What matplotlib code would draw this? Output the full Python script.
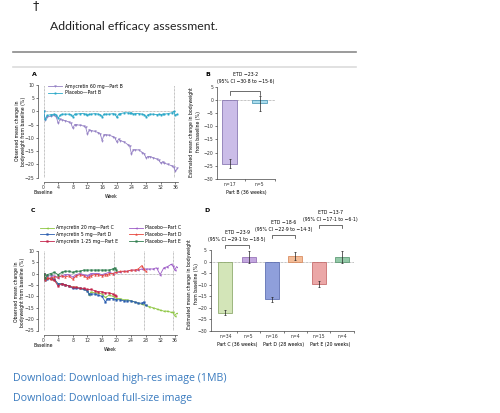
import matplotlib
matplotlib.use("Agg")
import matplotlib.pyplot as plt
from matplotlib.lines import Line2D

# ---------------- data ----------------
# Panel A: Part B (observed mean change, %)
a_weeks = [0, 0.5, 1, 2, 3, 3.5, 4, 4.5, 5, 6, 7, 7.5, 8, 8.5, 9, 10, 11, 11.5, 12, 12.5,
           13, 14, 15, 15.5, 16, 16.5, 17, 18, 19, 19.5, 20, 20.5, 21, 22, 23, 23.5, 24, 24.5,
           25, 26, 27, 27.5, 28, 28.5, 29, 30, 31, 31.5, 32, 32.5, 33, 34, 35, 35.5, 36, 36.5]
a_amy60 = [0, -3.2, -2.0, -1.8, -1.5, -2.0, -4.5, -3.0, -3.2, -3.5, -4.0, -4.5, -6.3, -5.0,
           -5.0, -5.2, -5.5, -6.0, -8.5, -7.0, -7.2, -7.5, -8.0, -8.5, -11.0, -8.8, -8.8, -9.0,
           -9.5, -10.0, -11.5, -10.5, -11.0, -11.5, -12.5, -13.0, -16.0, -14.5, -14.5, -14.5,
           -15.5, -16.0, -17.5, -17.0, -17.0, -17.5, -18.0, -18.5, -19.5, -19.0, -19.5, -20.0,
           -20.5, -21.0, -22.5, -21.5]
a_placebo = [0, -3.0, -1.5, -1.2, -1.0, -1.3, -2.5, -1.5, -1.0, -1.0, -1.0, -1.2, -2.0, -1.0,
             -1.0, -0.8, -0.8, -1.0, -1.5, -1.0, -1.0, -0.8, -1.0, -1.2, -2.0, -1.0, -1.0, -1.0,
             -0.8, -1.0, -2.2, -1.0, -0.8, -0.5, -0.5, -0.6, -0.5, -1.0, -0.8, -0.8, -1.0, -1.2,
             -2.0, -1.2, -1.0, -1.0, -1.2, -1.0, -1.2, -1.0, -1.0, -0.8, -0.5, 0.0, -1.5, -1.0]

# Panel B: estimated mean change (%) at 36 weeks
b_labels = ["n=17", "n=5"]
b_means = [-24.3, -1.3]
b_err = [1.7, 2.9]

# Panel C
c_weeks_C = [0, 0.5, 1, 2, 3, 4, 5, 6, 7, 8, 9, 10, 11, 12, 12.5, 13, 14, 15, 16, 17, 18, 19,
             20, 21, 22, 23, 24, 25, 26, 27, 28, 29, 30, 31, 32, 33, 34, 35, 35.5, 36, 36.5]
c_amy20 = [0, -2.5, -2.0, -2.5, -3.0, -4.5, -4.5, -5.0, -5.5, -6.0, -6.0, -6.5, -7.0, -7.5,
           -9.5, -8.0, -8.5, -8.5, -9.0, -10.5, -9.5, -10.0, -11.0, -11.0, -11.5, -11.5, -12.0,
           -12.5, -13.0, -13.5, -14.0, -14.5, -15.0, -15.5, -16.0, -16.5, -16.5, -17.0, -17.0,
           -18.5, -17.5]
c_plaC = [0, -2.5, -1.0, -1.0, -1.0, -2.0, -1.0, -0.5, -0.5, -1.5, -0.5, 0.0, -0.5, -1.0,
          -0.5, 0.0, 0.0, 0.0, -0.5, 0.0, 0.5, 0.0, 0.5, 0.5, 1.0, 1.0, 1.5, 1.5, 1.5, 2.0,
          2.0, 2.0, 2.0, 2.5, -0.5, 2.5, 3.0, 4.0, 3.5, 1.5, 3.0]
c_weeks_D = [0, 0.5, 1, 2, 3, 4, 5, 6, 7, 8, 9, 10, 11, 12, 12.5, 13, 14, 15, 16, 17, 17.5, 18,
             19, 20, 21, 22, 23, 24, 25, 26, 27, 27.5, 28]
c_amy5 = [0, -3.0, -2.5, -2.0, -2.5, -4.5, -4.5, -5.0, -5.5, -6.5, -6.5, -6.5, -7.0, -7.5,
          -9.0, -9.0, -9.0, -9.5, -10.0, -12.5, -11.0, -11.0, -11.0, -11.5, -11.5, -12.0,
          -12.0, -12.0, -12.5, -13.0, -13.0, -12.5, -14.0]
c_plaD = [0, -3.0, -2.0, -2.0, -1.5, -1.5, -1.0, -1.5, -1.0, -2.5, -1.0, -0.5, -1.0, -2.0,
          -1.5, -1.0, -0.5, -0.5, -1.0, -0.5, -0.5, 0.0, 0.0, 0.5, 1.0, 1.0, 1.0, 1.5, 1.5,
          2.0, 3.5, 2.0, 1.0]
c_weeks_E = [0, 0.5, 1, 2, 3, 4, 5, 6, 7, 8, 9, 10, 11, 12, 13, 14, 15, 16, 17, 18, 19, 19.5, 20]
c_amy125 = [0, -2.5, -2.0, -2.5, -3.0, -5.5, -4.5, -5.0, -5.5, -6.0, -6.0, -6.5, -6.5, -7.0,
            -7.0, -7.5, -8.0, -8.0, -8.5, -8.5, -9.0, -9.5, -10.0]
c_plaE = [0, -2.0, -0.5, 0.0, 0.5, -0.5, 0.5, 1.0, 1.0, 0.5, 1.0, 1.0, 1.5, 1.5, 1.5, 1.5,
          1.5, 1.5, 1.5, 1.5, 2.0, 2.5, 1.5]

# Panel D: estimated mean change (%)
d_labels = ["n=34", "n=5", "n=16", "n=4", "n=15", "n=4"]
d_means = [-22.1, 1.8, -16.2, 2.4, -9.8, 1.9]
d_err = [1.0, 2.6, 1.1, 1.8, 1.3, 2.5]
d_groups = ["Part C (36 weeks)", "Part D (28 weeks)", "Part E (20 weeks)"]
d_etd = ["ETD \u221223\u00b79\n(95% CI \u221229\u00b71 to \u221218\u00b75)",
         "ETD \u221218\u00b76\n(95% CI \u221222\u00b79 to \u221214\u00b73)",
         "ETD \u221213\u00b77\n(95% CI \u221217\u00b71 to \u22126\u00b71)"]
b_etd = "ETD \u221223\u00b72\n(95% CI \u221230\u00b78 to \u221215\u00b76)"

week_ticks = [0, 4, 8, 12, 16, 20, 24, 28, 32, 36]

# ---------------- layout ----------------
W, H = 500, 413
fig = plt.figure(figsize=(W / 100, H / 100), dpi=100)
plt.rcParams['font.family'] = ['DejaVu Sans']

def ax_px(x0, y0, x1, y1):
    return fig.add_axes([x0 / W, 1 - y1 / H, (x1 - x0) / W, (y1 - y0) / H])

def ftext(x, y, s, **kw):
    fig.text(x / W, 1 - y / H, s, **kw)

TS = 3.3
SP = '#444444'

def style(ax, xoff=0, yoff=0):
    for s in ['top', 'right']:
        ax.spines[s].set_visible(False)
    for s in ['left', 'bottom']:
        ax.spines[s].set_color(SP)
        ax.spines[s].set_linewidth(0.5)
    ax.spines['left'].set_position(('outward', yoff))
    ax.spines['bottom'].set_position(('outward', xoff))
    ax.tick_params(length=1.5, width=0.5, labelsize=TS, pad=1, color=SP, labelcolor='#333333')
    ax.patch.set_alpha(0)

# header
ftext(36, 5.5, "\u2020", fontsize=9, ha='center', va='center', color='#222222')
ftext(50, 26.5, "Additional efficacy assessment.", fontsize=8.8, ha='left', va='center',
      color='#222222', family='Lato')
fig.add_artist(Line2D([13 / W, 356 / W], [1 - 51.7 / H] * 2, color='#8a8a8a', lw=1.2))
fig.add_artist(Line2D([13 / W, 356 / W], [1 - 66.7 / H] * 2, color='#dcdcdc', lw=1.2))

# footer
ftext(13, 378.5, "Download: Download high-res image (1MB)", fontsize=7.7, color='#3a7bbf',
      ha='left', va='center', family='Open Sans')
ftext(13, 398.5, "Download: Download full-size image", fontsize=7.7, color='#3a7bbf',
      ha='left', va='center', family='Open Sans')

PURPLE_A = '#9480c4'
TEAL = '#2aa8c8'
GRAYDOT = dict(color='#888888', lw=0.5, ls=(0, (1, 1)))

def week_axis(ax):
    ax.set_xlim(0, 36.7)
    ax.set_ylim(-25, 10)
    ax.set_xticks(week_ticks)
    ax.set_yticks(range(-25, 11, 5))
    ax.set_xlabel("Week", fontsize=TS, labelpad=2.5)
    ax.annotate("Baseline", xy=(0, 0), xycoords=('data', 'axes fraction'),
                xytext=(0, -10.5), textcoords='offset points', fontsize=TS,
                ha='center', va='center')
    ax.plot([0, 36], [0, 0], **GRAYDOT, zorder=1)

# ---- Panel A ----
axA = ax_px(43.5, 85, 178, 177.7)
style(axA, xoff=3, yoff=4)
week_axis(axA)
for x in [0, 35.5]:
    axA.axvline(x, **GRAYDOT, zorder=1)
axA.plot(a_weeks, a_amy60, color=PURPLE_A, lw=0.6, marker='v', ms=1.3, mew=0.3,
         label="Amycretin 60 mg\u2014Part B", zorder=3)
axA.plot(a_weeks, a_placebo, color=TEAL, lw=0.6, marker='s', ms=1.0, mew=0.3,
         label="Placebo\u2014Part B", zorder=3)
axA.legend(loc='upper left', bbox_to_anchor=(0.02, 1.04), fontsize=TS, frameon=False,
           handlelength=3, handletextpad=0.5, labelspacing=0.35, borderpad=0)
ftext(34, 74.5, "A", fontsize=4.5, fontweight='bold', ha='center', va='center')
ftext(20.5, 131, "Observed mean change in\nbodyweight from baseline (%)", fontsize=TS,
      rotation=90, ha='center', va='center', linespacing=1.3)

# ---- Panel B ----
axB = ax_px(217, 86.7, 275, 179)
style(axB, yoff=0)
axB.set_xlim(-0.42, 1.5)
axB.set_ylim(-30, 5)
axB.set_yticks(range(-30, 6, 5))
axB.set_xticks([0, 1])
axB.set_xticklabels(b_labels)
axB.tick_params(axis='x', length=0, pad=2)
axB.set_xticks([0.5, 1.5], minor=True)
axB.tick_params(axis='x', which='minor', length=1.5, width=0.5, color=SP)
axB.bar([0, 1], b_means, width=0.5, color=['#cbbde8', '#a9dcec'],
        edgecolor=['#7a68a8', '#3d8fb0'], lw=0.5, zorder=2)
axB.errorbar([0, 1], b_means, yerr=b_err, fmt='none', ecolor='#222222', elinewidth=0.5,
             capsize=1, capthick=0.5, zorder=3)
axB.axhline(0, **GRAYDOT, zorder=1)
axB.set_xlabel("Part B (36 weeks)", fontsize=TS, labelpad=2)
axB.plot([0, 0, 1, 1], [2.0, 3.2, 3.2, 2.0], color='#333333', lw=0.5, clip_on=False)
axB.text(0.5, 1.03, b_etd, transform=axB.transAxes, fontsize=TS, ha='center', va='bottom',
         linespacing=1.5)
ftext(208, 74.5, "B", fontsize=4.5, fontweight='bold', ha='center', va='center')
ftext(195, 132, "Estimated mean change in bodyweight\nfrom baseline (%)", fontsize=TS,
      rotation=90, ha='center', va='center', linespacing=1.3)

# ---- Panel C ----
axC = ax_px(43.5, 250.7, 177.3, 330.5)
style(axC, xoff=3, yoff=4)
week_axis(axC)
for x in [0, 19.3, 27.5, 35.5]:
    axC.axvline(x, **GRAYDOT, zorder=1)
c_series = [
    (c_weeks_C, c_amy20, '#8cc63f', '<', "Amycretin 20 mg\u2014Part C"),
    (c_weeks_D, c_amy5, '#2a5db0', 's', "Amycretin 5 mg\u2014Part D"),
    (c_weeks_E, c_amy125, '#c4234a', 's', "Amycretin 1\u00b725 mg\u2014Part E"),
    (c_weeks_C, c_plaC, '#9b59c6', '<', "Placebo\u2014Part C"),
    (c_weeks_D, c_plaD, '#e8443a', '^', "Placebo\u2014Part D"),
    (c_weeks_E, c_plaE, '#2f7d4e', 's', "Placebo\u2014Part E"),
]
for xs_, ys_, col, mk, lab in c_series:
    axC.plot(xs_, ys_, color=col, lw=0.6, marker=mk, ms=1.2, mew=0.3, label=lab, zorder=3)
axC.legend(loc='lower left', bbox_to_anchor=(-0.04, 1.06), ncol=2, fontsize=TS,
           frameon=False, handlelength=3, handletextpad=0.5, labelspacing=0.35,
           columnspacing=2.3, borderpad=0)
ftext(33, 210, "C", fontsize=4.5, fontweight='bold', ha='center', va='center')
ftext(19.5, 292, "Observed mean change in\nbodyweight from baseline (%)", fontsize=TS,
      rotation=90, ha='center', va='center', linespacing=1.3)

# ---- Panel D ----
axD = ax_px(210.5, 250, 353.7, 331)
style(axD, yoff=0)
axD.set_xlim(-0.64, 5.5)
axD.set_ylim(-30, 5)
axD.set_yticks(range(-30, 6, 5))
xs = list(range(len(d_means)))
axD.set_xticks(xs)
axD.set_xticklabels(d_labels)
axD.tick_params(axis='x', length=0, pad=2)
axD.set_xticks([0.5, 1.5, 2.5, 3.5, 4.5, 5.5], minor=True)
axD.tick_params(axis='x', which='minor', length=1.5, width=0.5, color=SP)
d_face = ['#d3e5b8', '#c3a7df', '#8f9fdb', '#f4bd98', '#eba7a7', '#93c9a8']
d_edge = ['#7f9e5a', '#8a63b0', '#4b5ea8', '#d47f4f', '#bf5b5b', '#4d8f66']
axD.bar(xs, d_means, width=0.6, color=d_face, edgecolor=d_edge, lw=0.5, zorder=2)
axD.errorbar(xs, d_means, yerr=d_err, fmt='none', ecolor='#222222', elinewidth=0.5,
             capsize=1, capthick=0.5, zorder=3)
axD.axhline(0, **GRAYDOT, zorder=1)
for i, g in enumerate(d_groups):
    axD.annotate(g, xy=(2 * i + 0.5, 0), xycoords=('data', 'axes fraction'),
                 xytext=(0, -10), textcoords='offset points', fontsize=TS,
                 ha='center', va='center')
br_y = [7.0, 11.3, 15.6]
for i, (lab, yb) in enumerate(zip(d_etd, br_y)):
    x0, x1 = 2 * i, 2 * i + 1
    axD.plot([x0, x0, x1, x1], [yb - 1.2, yb, yb, yb - 1.2], color='#333333', lw=0.5,
             clip_on=False)
    axD.text(2 * i + 0.5, yb + 1.5, lab, fontsize=TS, ha='center', va='bottom',
             linespacing=1.5)
ftext(193, 284, "Estimated mean change in bodyweight\nfrom baseline (%)", fontsize=TS,
      rotation=90, ha='center', va='center', linespacing=1.3)
ftext(207, 210, "D", fontsize=4.5, fontweight='bold', ha='center', va='center')

fig.savefig("out.png", dpi=100, facecolor='white')
